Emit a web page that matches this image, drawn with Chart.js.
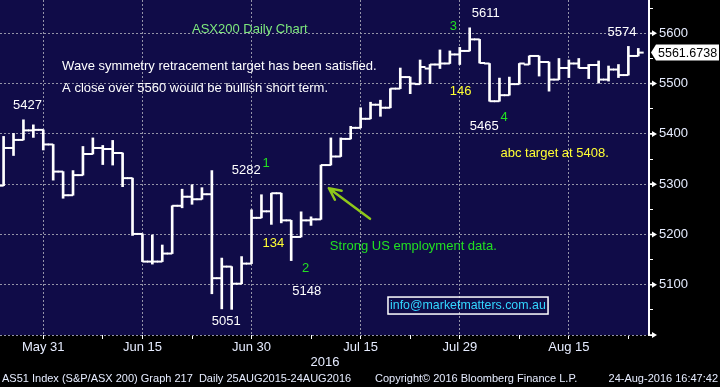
<!DOCTYPE html>
<html>
<head>
<meta charset="utf-8">
<script src="https://cdn.jsdelivr.net/npm/chart.js@4.4.0/dist/chart.umd.min.js"></script>
<style>
html, body { margin: 0; padding: 0; background: #000; }
canvas { display: block; }
</style>
</head>
<body>
<canvas id="chart" width="720" height="387"></canvas>
<script>
const ctx = document.getElementById('chart')

// daily bars, 25 May - 24 Aug 2016
const dates = ['May 25', 'May 26', 'May 27', 'May 30', 'May 31',
    'Jun 1', 'Jun 2', 'Jun 3', 'Jun 6', 'Jun 7', 'Jun 8', 'Jun 9', 'Jun 10', 'Jun 14', 'Jun 15',
    'Jun 16', 'Jun 17', 'Jun 20', 'Jun 21', 'Jun 22', 'Jun 23', 'Jun 24', 'Jun 27', 'Jun 28', 'Jun 29', 'Jun 30',
    'Jul 1', 'Jul 4', 'Jul 5', 'Jul 6', 'Jul 7', 'Jul 8', 'Jul 11', 'Jul 12', 'Jul 13', 'Jul 14', 'Jul 15',
    'Jul 18', 'Jul 19', 'Jul 20', 'Jul 21', 'Jul 22', 'Jul 25', 'Jul 26', 'Jul 27', 'Jul 28', 'Jul 29',
    'Aug 1', 'Aug 2', 'Aug 3', 'Aug 4', 'Aug 5', 'Aug 8', 'Aug 9', 'Aug 10', 'Aug 11', 'Aug 12',
    'Aug 15', 'Aug 16', 'Aug 17', 'Aug 18', 'Aug 19', 'Aug 22', 'Aug 23', 'Aug 24']
const opens = [5297, 5372, 5388, 5407, 5408, 5379, 5325, 5278, 5318, 5360, 5372, 5370, 5362, 5312, 5201,
    5146, 5146, 5162, 5257, 5275, 5270, 5280, 5113, 5136, 5102, 5142,
    5233, 5246, 5282, 5228, 5195, 5228, 5230, 5338, 5355, 5390, 5412,
    5430, 5458, 5452, 5490, 5513, 5499, 5530, 5538, 5540, 5558,
    5565, 5588, 5540, 5465, 5477, 5499, 5538, 5555, 5543, 5508,
    5531, 5540, 5531, 5537, 5508, 5528, 5517, 5555]
const highs = [5395, 5401, 5428, 5418, 5408, 5379, 5325, 5327, 5375, 5392, 5377, 5387, 5362, 5312, 5201,
    5199, 5179, 5257, 5290, 5299, 5293, 5327, 5153, 5136, 5156, 5249,
    5279, 5282, 5282, 5228, 5245, 5235, 5338, 5392, 5392, 5415, 5452,
    5463, 5467, 5490, 5531, 5513, 5547, 5538, 5567, 5565, 5572,
    5611, 5588, 5540, 5511, 5513, 5540, 5555, 5555, 5543, 5550,
    5547, 5550, 5538, 5545, 5535, 5538, 5574, 5570]
const lows = [5297, 5357, 5388, 5393, 5368, 5308, 5272, 5278, 5318, 5360, 5339, 5338, 5295, 5198, 5146,
    5141, 5146, 5162, 5253, 5260, 5270, 5082, 5052, 5051, 5102, 5142,
    5233, 5220, 5223, 5148, 5195, 5218, 5230, 5338, 5355, 5390, 5412,
    5430, 5435, 5452, 5490, 5480, 5499, 5500, 5530, 5540, 5538,
    5565, 5541, 5465, 5465, 5477, 5499, 5538, 5515, 5485, 5508,
    5512, 5531, 5510, 5501, 5505, 5512, 5517, 5555]
const closes = [5372, 5388, 5407, 5408, 5379, 5325, 5278, 5318, 5360, 5372, 5370, 5362, 5312, 5201, 5146,
    5146, 5162, 5257, 5275, 5270, 5280, 5113, 5136, 5102, 5142, 5233,
    5246, 5282, 5228, 5195, 5228, 5230, 5338, 5355, 5390, 5412, 5430,
    5458, 5452, 5490, 5513, 5500, 5533, 5538, 5540, 5558, 5565,
    5588, 5541, 5465, 5477, 5499, 5540, 5555, 5543, 5508, 5531,
    5540, 5531, 5537, 5508, 5528, 5517, 5555, 5561.6738]
const lastPrice = 5561.6738

const majorTicks = ['May 31', 'Jun 15', 'Jun 30', 'Jul 15', 'Jul 29', 'Aug 15']
const minorTicks = ['Jun 8', 'Jun 22', 'Jul 8', 'Jul 22', 'Aug 8', 'Aug 23']
const priceLabels = [5000, 5100, 5200, 5300, 5400, 5500, 5600]

// text notes placed at [bar index, price]
const notes = [
    ['ASX200 Daily Chart', 19, 5608, '#7de87d'],
    ['Wave symmetry retracement target has been satisfied.', 5.9, 5534, '#ffffff'],
    ['A close over 5560 would be bullish short term.', 5.9, 5490, '#ffffff'],
    ['5427', 0.95, 5457, '#ffffff'],
    ['5282', 23, 5327, '#ffffff'],
    ['1', 26.1, 5342, '#22e022'],
    ['134', 26.1, 5182, '#ffff33'],
    ['2', 30.1, 5133, '#22e022'],
    ['5148', 29.1, 5087, '#ffffff'],
    ['5051', 21, 5027, '#ffffff'],
    ['3', 45, 5613, '#22e022'],
    ['5611', 47.2, 5640, '#ffffff'],
    ['146', 45, 5485, '#ffff33'],
    ['5465', 47, 5414, '#ffffff'],
    ['4', 50.1, 5432, '#22e022'],
    ['5574', 60.9, 5601, '#ffffff'],
    ['abc target at 5408.', 50.1, 5362, '#ffff33'],
    ['Strong US employment data.', 32.9, 5176, '#22e022']
]
const arrowNote = [36.95, 5231, 32.8, 5292]
const emailNote = ['info@marketmatters.com.au', 38.76, 5075.5, 54.9, 5041.7]

const TICK_OFF = 0.27
const labelColor = '#e6ecff'
const gridColor = '#9494a8'

Chart.defaults.font.family = "'Liberation Sans', Arial, sans-serif"
Chart.defaults.font.size = 13

const idx = name => dates.indexOf(name)

const backdrop = {
    id: 'backdrop',
    beforeDraw(chart) {
        const { ctx: c, chartArea: a } = chart
        c.save()
        c.fillStyle = '#000'
        c.fillRect(0, 0, chart.width, chart.height)
        c.fillStyle = '#100c48'
        c.fillRect(a.left, a.top, a.right - a.left, a.bottom - a.top)
        c.restore()
    }
}

const overlay = {
    id: 'overlay',
    afterDraw(chart) {
        const { ctx: c, chartArea: a } = chart
        const xs = chart.scales.x
        const ys = chart.scales.y
        c.save()
        c.textBaseline = 'middle'
        c.textAlign = 'left'
        c.font = "13px 'Liberation Sans', Arial, sans-serif"
        notes.forEach(([t, i, v, col]) => {
            c.fillStyle = col
            c.fillText(t, xs.getPixelForValue(i), ys.getPixelForValue(v))
        })

        // green arrow
        const x1 = xs.getPixelForValue(arrowNote[0]), y1 = ys.getPixelForValue(arrowNote[1])
        const x2 = xs.getPixelForValue(arrowNote[2]), y2 = ys.getPixelForValue(arrowNote[3])
        const ang = Math.atan2(y2 - y1, x2 - x1)
        c.strokeStyle = '#8fc81a'
        c.lineWidth = 2.5
        c.lineCap = 'round'
        c.beginPath()
        c.moveTo(x1, y1)
        c.lineTo(x2, y2)
        c.moveTo(x2, y2)
        c.lineTo(x2 - 13 * Math.cos(ang - 0.45), y2 - 13 * Math.sin(ang - 0.45))
        c.moveTo(x2, y2)
        c.lineTo(x2 - 13 * Math.cos(ang + 0.45), y2 - 13 * Math.sin(ang + 0.45))
        c.stroke()

        // email box
        const bx1 = xs.getPixelForValue(emailNote[1]), by1 = ys.getPixelForValue(emailNote[2])
        const bx2 = xs.getPixelForValue(emailNote[3]), by2 = ys.getPixelForValue(emailNote[4])
        c.strokeStyle = '#ffffff'
        c.lineWidth = 1.5
        c.lineCap = 'butt'
        c.strokeRect(bx1, by1, bx2 - bx1, by2 - by1)
        c.fillStyle = '#33d6ff'
        c.font = "12.4px 'Liberation Sans', Arial, sans-serif"
        c.fillText(emailNote[0], bx1 + 2, (by1 + by2) / 2 + 0.5)

        // arrow markers on the price axis
        c.fillStyle = '#ffffff'
        priceLabels.forEach(v => {
            const y = ys.getPixelForValue(v)
            c.beginPath()
            c.moveTo(a.right, y - 0.8)
            c.lineTo(a.right + 3, y - 0.8)
            c.lineTo(a.right + 3, y - 3)
            c.lineTo(a.right + 8, y)
            c.lineTo(a.right + 3, y + 3)
            c.lineTo(a.right + 3, y + 0.8)
            c.lineTo(a.right, y + 0.8)
            c.closePath()
            c.fill()
        })

        // last price tag
        const yp = ys.getPixelForValue(lastPrice)
        c.beginPath()
        c.moveTo(a.right + 2, yp)
        c.lineTo(a.right + 7, yp - 8)
        c.lineTo(chart.width - 1, yp - 8)
        c.lineTo(chart.width - 1, yp + 8)
        c.lineTo(a.right + 7, yp + 8)
        c.closePath()
        c.fill()
        c.fillStyle = '#000'
        c.font = "12.5px 'Liberation Sans', Arial, sans-serif"
        c.fillText(lastPrice.toFixed(4), a.right + 9, yp + 0.5)

        // year + footer
        c.font = "13px 'Liberation Sans', Arial, sans-serif"
        c.fillStyle = labelColor
        c.textAlign = 'center'
        c.fillText('2016', xs.getPixelForValue(32.4), 362)
        c.font = "11px 'Liberation Sans', Arial, sans-serif"
        c.textAlign = 'left'
        c.fillText('AS51 Index (S&P/ASX 200) Graph 217  Daily 25AUG2015-24AUG2016', 2, 379)
        c.fillText('Copyright\u00a9 2016 Bloomberg Finance L.P.', 375, 379)
        c.textAlign = 'right'
        c.fillText('24-Aug-2016 16:47:42', 718, 379)
        c.restore()
    }
}

const chartInstance = new Chart(ctx, {
    type: 'bar',
    data: {
        datasets: [{
            type: 'bar',
            data: dates.map((d, i) => ({ x: i, y: [lows[i], highs[i]] })),
            backgroundColor: '#ffffff',
            borderWidth: 0,
            barThickness: 2
        }, {
            type: 'scatter',
            data: dates.map((d, i) => ({ x: i - TICK_OFF, y: opens[i] })),
            pointStyle: 'line',
            radius: 2.7,
            borderColor: '#ffffff',
            borderWidth: 2
        }, {
            type: 'scatter',
            data: dates.map((d, i) => ({ x: i + TICK_OFF, y: closes[i] })),
            pointStyle: 'line',
            radius: 2.7,
            borderColor: '#ffffff',
            borderWidth: 2
        }]
    },
    options: {
        responsive: false,
        animation: false,
        events: [],
        layout: { padding: 0, autoPadding: false },
        plugins: { legend: { display: false }, tooltip: { enabled: false } },
        scales: {
            x: {
                type: 'linear',
                min: -0.363,
                max: 65.08,
                offset: false,
                afterBuildTicks(scale) {
                    scale.ticks = majorTicks.concat(minorTicks).map(idx).sort((p, q) => p - q).map(v => ({ value: v }))
                },
                afterFit(scale) {
                    scale.height = 52
                    scale.paddingLeft = 0
                    scale.paddingRight = 0
                },
                ticks: {
                    autoSkip: false,
                    maxRotation: 0,
                    color: labelColor,
                    padding: 1,
                    callback: v => majorTicks.includes(dates[v]) ? dates[v] : ''
                },
                grid: {
                    offset: false,
                    color: c => c.tick && majorTicks.includes(dates[c.tick.value]) ? gridColor : 'rgba(0,0,0,0)',
                    tickColor: '#ffffff',
                    tickLength: 4,
                    lineWidth: 1
                },
                border: { display: false, dash: [2, 2] }
            },
            y: {
                position: 'right',
                min: 5000,
                max: 5666.3,
                afterFit(scale) {
                    scale.width = 71
                    scale.paddingTop = 0
                    scale.paddingBottom = 0
                },
                ticks: {
                    stepSize: 50,
                    includeBounds: false,
                    color: labelColor,
                    padding: 6,
                    callback: v => (v % 100 === 0 && v > 5000) ? String(v) : ''
                },
                grid: {
                    color: c => c.tick && c.tick.value % 100 === 0 ? gridColor : 'rgba(0,0,0,0)',
                    tickColor: '#ffffff',
                    tickLength: 4,
                    lineWidth: 1
                },
                border: { display: true, color: '#ffffff', width: 2, dash: [2, 2] }
            }
        }
    },
    plugins: [backdrop, overlay]
})
</script>
</body>
</html>
